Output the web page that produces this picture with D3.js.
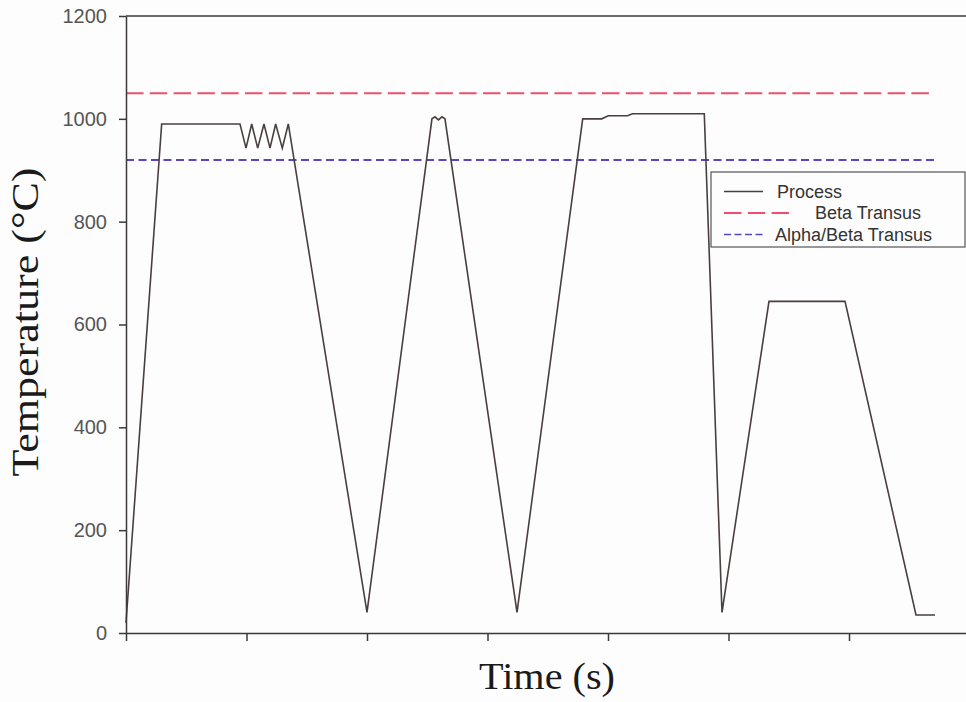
<!DOCTYPE html>
<html>

<head>
    <meta charset="utf-8">
    <title>Temperature vs time</title>
    <script src="https://d3js.org/d3.v7.min.js"></script>
    <style>
        body {
            margin: 0;
            background: #fdfdfd;
        }

        .axis path,
        .axis line {
            stroke: #3d3838;
            stroke-width: 1.5px;
        }

        .axis text {
            font-family: "Liberation Sans", Arial, sans-serif;
            font-size: 20px;
            fill: #555;
        }

        .title {
            font-family: "Liberation Serif", "Times New Roman", serif;
            font-size: 38px;
            fill: #1a1a1a;
        }

        .legend text {
            font-family: "Liberation Sans", Arial, sans-serif;
            font-size: 18px;
            fill: #333;
        }
    </style>
</head>

<body>
    <script>
        // process curve, time in tick units (ticks have no labels)
        let processTime = [0, 0.296, 0.946, 0.996, 1.043, 1.093, 1.145, 1.195, 1.242, 1.297, 1.347,
            2.0, 2.539, 2.564, 2.593, 2.622, 2.647, 3.245,
            3.790, 3.948, 4.002, 4.163, 4.202, 4.799, 4.946,
            5.336, 5.967, 6.556, 6.714];
        let processTemp = [20, 990, 990, 943, 990, 943, 990, 943, 990, 943, 990,
            40, 1000, 1004, 998, 1004, 1000, 40,
            1000, 1000, 1006, 1006, 1010, 1010, 40,
            645, 645, 35, 35];

        let betaTime = [0, 6.68];
        let betaTemp = [1050, 1050];
        let alphaBetaTime = [0, 6.71];
        let alphaBetaTemp = [920, 920];

        let yTicks = [0, 200, 400, 600, 800, 1000, 1200];
        let xTicks = [0, 1, 2, 3, 4, 5, 6, 7];
        let legendLabels = ["Process", "Beta Transus", "Alpha/Beta Transus"];

        let width = 966;
        let height = 702;

        let svg = d3.select('body').append('svg')
            .attr('width', width)
            .attr('height', height);

        let x_scale = d3.scaleLinear()
            .domain([0, 7])
            .range([126, 969.5]);

        let y_scale = d3.scaleLinear()
            .domain([0, 1200])
            .range([633, 16]);

        let toPoints = (xs, ys) => xs.map((t, i) => [t, ys[i]]);

        let line = d3.line()
            .x(d => x_scale(d[0]))
            .y(d => y_scale(d[1]));

        // top frame line
        svg.append("line")
            .attr("x1", x_scale(0))
            .attr("x2", x_scale(7))
            .attr("y1", y_scale(1200))
            .attr("y2", y_scale(1200))
            .attr("stroke", "#3d3838")
            .attr("stroke-width", 1.5);

        // transus lines
        svg.append("path")
            .attr("d", line(toPoints(betaTime, betaTemp)))
            .attr("fill", "none")
            .attr("stroke", "#ee4f6e")
            .attr("stroke-width", 2)
            .attr("stroke-dasharray", "17.5,6.3");

        svg.append("path")
            .attr("d", line(toPoints(alphaBetaTime, alphaBetaTemp)))
            .attr("fill", "none")
            .attr("stroke", "#5a45c2")
            .attr("stroke-width", 2)
            .attr("stroke-dasharray", "8,4.5");

        svg.append("path")
            .attr("d", line(toPoints(processTime, processTemp)))
            .attr("fill", "none")
            .attr("stroke", "#4a3f3f")
            .attr("stroke-width", 1.6)
            .attr("stroke-linejoin", "miter");

        let x_axis = d3.axisBottom(x_scale)
            .tickValues(xTicks)
            .tickFormat("")
            .tickSize(8)
            .tickSizeOuter(0);
        svg.append("g")
            .attr("class", "x axis")
            .attr("transform", "translate(0," + y_scale(0) + ")")
            .call(x_axis);

        let y_axis = d3.axisLeft(y_scale)
            .tickValues(yTicks)
            .tickFormat(d3.format("d"))
            .tickSize(7)
            .tickPadding(12)
            .tickSizeOuter(0);
        svg.append("g")
            .attr("class", "y axis")
            .attr("transform", "translate(" + x_scale(0) + ",0)")
            .call(y_axis);

        // axis titles
        svg.append("text")
            .attr("class", "title")
            .attr("x", 547)
            .attr("y", 689)
            .attr("text-anchor", "middle")
            .attr("textLength", 136)
            .attr("lengthAdjust", "spacingAndGlyphs")
            .text("Time (s)");

        svg.append("text")
            .attr("class", "title")
            .attr("transform", "translate(38,322) rotate(-90)")
            .attr("text-anchor", "middle")
            .attr("textLength", 309)
            .attr("lengthAdjust", "spacingAndGlyphs")
            .text("Temperature (\u00B0C)");

        // legend
        let legend = svg.append("g").attr("class", "legend");
        legend.append("rect")
            .attr("x", 711)
            .attr("y", 172)
            .attr("width", 254)
            .attr("height", 75)
            .attr("fill", "#fdfdfd")
            .attr("stroke", "#555")
            .attr("stroke-width", 1.2);

        let legendStyles = [
            { color: "#4a3f3f", dash: null, x2: 763, tx: 777, width: 1.6 },
            { color: "#ee4f6e", dash: "17.5,6.3", x2: 789, tx: 815, width: 2 },
            { color: "#5a45c2", dash: "7,3.5", x2: 765, tx: 775, width: 1.6 }
        ];
        let rowY = [191.5, 213, 234.5];

        legendLabels.forEach((label, i) => {
            let s = legendStyles[i];
            legend.append("line")
                .attr("x1", 724)
                .attr("x2", s.x2)
                .attr("y1", rowY[i])
                .attr("y2", rowY[i])
                .attr("stroke", s.color)
                .attr("stroke-width", s.width)
                .attr("stroke-dasharray", s.dash);
            legend.append("text")
                .attr("x", s.tx)
                .attr("y", rowY[i])
                .attr("dy", "0.35em")
                .text(label);
        });
    </script>
</body>

</html>
